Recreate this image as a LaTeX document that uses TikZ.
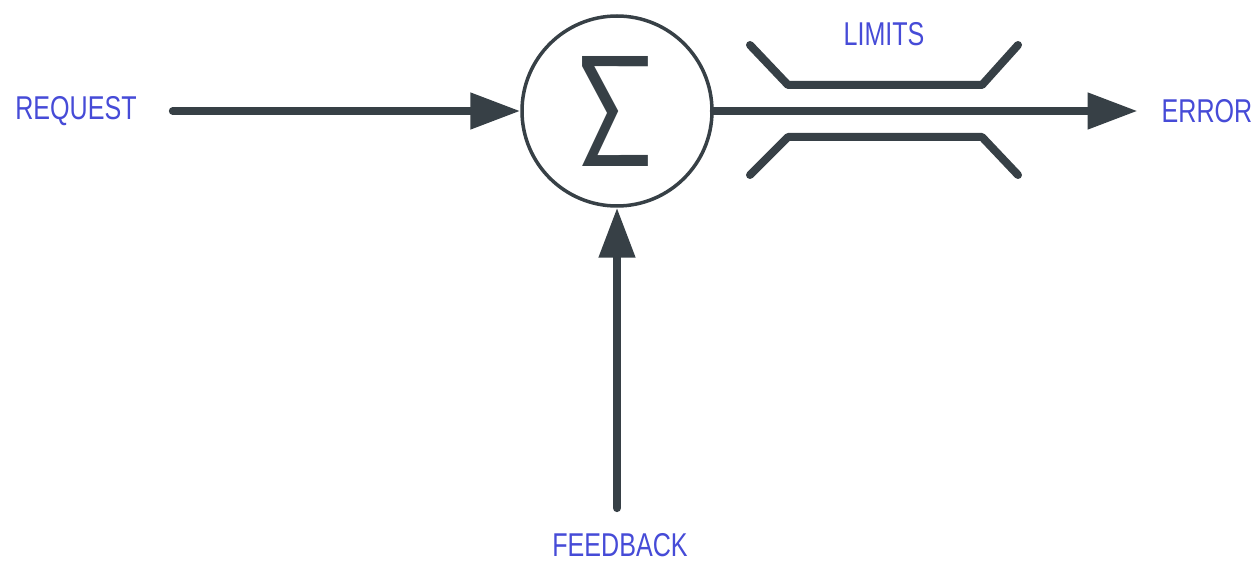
\documentclass[tikz,border=0pt]{standalone}
\usepackage[no-math]{fontspec}
\setmainfont{Liberation Sans}
\usetikzlibrary{arrows.meta}
\definecolor{ink}{RGB}{55,64,70}
\definecolor{lbl}{RGB}{70,75,215}
\tikzset{
  lab/.style={text=lbl, font=\fontsize{33}{36}\selectfont, inner sep=0pt},
  wire/.style={draw=ink, line width=8pt, line cap=round},
  arr/.style={wire, -{Triangle[length=50pt,width=35pt]}},
  lim/.style={draw=ink, line width=8pt, line cap=round, line join=round}
}
\newcommand\sq[1]{\scalebox{0.76}[1]{#1}}
\begin{document}
\begin{tikzpicture}[x=1pt,y=-1pt]
\useasboundingbox (0,0) rectangle (1260,561);
\node[circle, draw=ink, line width=3.5pt, minimum size=190pt, inner sep=0pt] (sum) at (617,111) {};
\node[text=ink, inner sep=0pt] (sig) at (616,111) {\resizebox{78pt}{110pt}{$\mathsf{\Sigma}$}};
\node[lab] (req) at (76,111) {\sq{REQUEST}};
\node[lab] (err) at (1207,111) {\sq{ERROR}};
\node[lab] (fb) at (620,545) {\sq{FEEDBACK}};
\node[lab] (lim) at (884,34) {\sq{LIMITS}};
\draw[arr] ([xshift=36pt]req.east) -- (sum);
\draw[arr] (sum) -- ([xshift=-24pt]err.west);
\draw[arr] ([xshift=-3pt,yshift=25pt]fb.north) -- (sum.south);
\draw[lim] (750,45) -- (788,85) -- (982,85) -- (1018,45);
\draw[lim] (750,175) -- (788,137) -- (982,137) -- (1018,175);
\end{tikzpicture}
\end{document}
